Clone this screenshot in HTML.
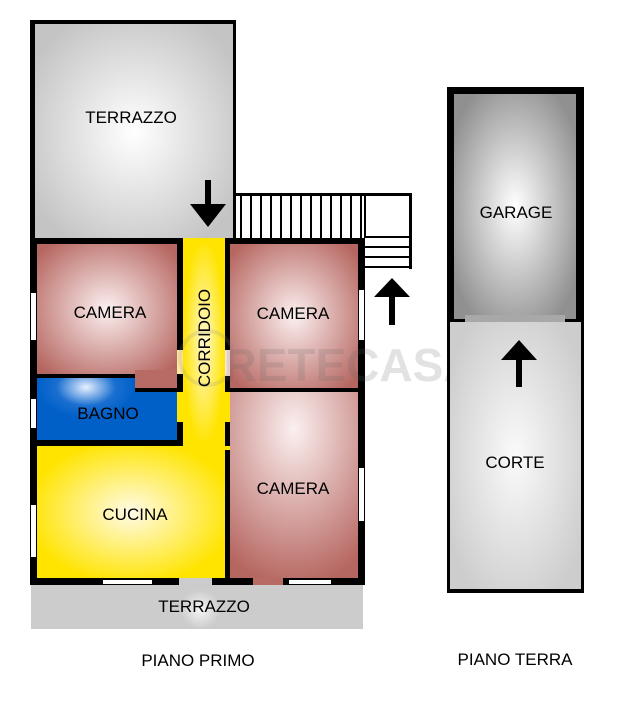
<!DOCTYPE html>
<html><head><meta charset="utf-8"><style>
html,body{margin:0;padding:0;background:#fff;width:640px;height:721px;overflow:hidden}
text{font-family:"Liberation Sans",sans-serif;font-size:17px;fill:#000}
</style></head><body>
<svg width="640" height="721" viewBox="0 0 640 721" xmlns="http://www.w3.org/2000/svg">
<defs>
<radialGradient id="gray" cx="50%" cy="50%" r="60%"><stop offset="0" stop-color="#fff"/><stop offset="1" stop-color="#c4c4c4"/></radialGradient>
<radialGradient id="red" cx="50%" cy="50%" r="65%"><stop offset="0" stop-color="#fbf0f0"/><stop offset="1" stop-color="#b66660"/></radialGradient>
<radialGradient id="red2" cx="50%" cy="20%" r="85%"><stop offset="0" stop-color="#fbf0f0"/><stop offset="1" stop-color="#b66660"/></radialGradient>
<radialGradient id="blue" cx="50%" cy="15%" r="50%"><stop offset="0" stop-color="#e8f0ff"/><stop offset="0.6" stop-color="#1a6fd0"/><stop offset="1" stop-color="#0060c8"/></radialGradient>
<radialGradient id="yel" cx="50%" cy="50%" r="55%"><stop offset="0" stop-color="#fffbe8"/><stop offset="1" stop-color="#ffe400"/></radialGradient>
<radialGradient id="yelc" cx="50%" cy="50%" r="50%"><stop offset="0" stop-color="#fff8d0"/><stop offset="1" stop-color="#ffe400"/></radialGradient>
<radialGradient id="gar" cx="50%" cy="50%" r="60%"><stop offset="0" stop-color="#fff"/><stop offset="1" stop-color="#909090"/></radialGradient>
<radialGradient id="cor" cx="50%" cy="50%" r="60%"><stop offset="0" stop-color="#fafafa"/><stop offset="1" stop-color="#cdcdcd"/></radialGradient>
<radialGradient id="ter" cx="50%" cy="50%" r="50%"><stop offset="0" stop-color="#f4f4f4"/><stop offset="1" stop-color="#cccccc"/></radialGradient>
</defs>

<rect x="30" y="20" width="206" height="222" fill="#000"/>
<rect x="35" y="24" width="198" height="218" fill="url(#gray)"/>
<text x="131" y="123" text-anchor="middle">TERRAZZO</text>
<rect x="236" y="193" width="176" height="3" fill="#000"/>
<rect x="409" y="193" width="3" height="76" fill="#000"/>
<g stroke="#000" stroke-width="2">
<line x1="241" y1="195" x2="241" y2="238"/><line x1="251" y1="195" x2="251" y2="238"/><line x1="261" y1="195" x2="261" y2="238"/><line x1="271" y1="195" x2="271" y2="238"/><line x1="281" y1="195" x2="281" y2="238"/><line x1="291" y1="195" x2="291" y2="238"/><line x1="301" y1="195" x2="301" y2="238"/><line x1="311" y1="195" x2="311" y2="238"/><line x1="321" y1="195" x2="321" y2="238"/><line x1="331" y1="195" x2="331" y2="238"/><line x1="341" y1="195" x2="341" y2="238"/><line x1="351" y1="195" x2="351" y2="238"/><line x1="361" y1="195" x2="361" y2="238"/>
<line x1="365" y1="196" x2="365" y2="238"/>
<line x1="365" y1="237" x2="410" y2="237"/><line x1="365" y1="247" x2="410" y2="247"/><line x1="365" y1="257" x2="410" y2="257"/><line x1="365" y1="267" x2="412" y2="267"/>
</g>

<rect x="30" y="238" width="335" height="347" fill="#000"/>
<rect x="37" y="244" width="140" height="130" fill="url(#red)"/>
<rect x="135" y="370" width="42" height="18" fill="#b86a64"/>
<rect x="183" y="238" width="42" height="208" fill="url(#yelc)"/>
<rect x="193" y="238" width="27" height="6" fill="#ffe400"/>
<rect x="230" y="244" width="128" height="144" fill="url(#red)"/>
<rect x="37" y="378" width="98" height="62" fill="url(#blue)"/>
<rect x="135" y="392" width="42" height="48" fill="#0060c8"/>
<rect x="230" y="392" width="128" height="186" fill="url(#red2)"/>
<rect x="37" y="446" width="188" height="132" fill="url(#yel)"/>
<rect x="177" y="350" width="6" height="24" fill="#ffe8a0"/>
<rect x="225" y="350" width="5" height="26" fill="#fbe8e0"/>
<rect x="177" y="392" width="6" height="30" fill="#ffe400"/>
<rect x="225" y="392" width="5" height="30" fill="#ffe400"/>
<rect x="191" y="440" width="28" height="6" fill="#ffe400"/>
<rect x="225" y="446" width="5" height="4" fill="#ffe400"/>
<rect x="179" y="578" width="33" height="7" fill="#ccc"/>
<rect x="253" y="578" width="30" height="7" fill="#b86a64"/>
<rect x="103" y="580" width="49" height="4" fill="#fff"/>
<rect x="289" y="580" width="42" height="4" fill="#fff"/>
<rect x="31" y="293" width="5" height="47" fill="#fff"/>
<rect x="31" y="399" width="5" height="29" fill="#fff"/>
<rect x="31" y="505" width="5" height="52" fill="#fff"/>
<rect x="359" y="290" width="5" height="50" fill="#fff"/>
<rect x="359" y="468" width="5" height="53" fill="#fff"/>

<rect x="31" y="585" width="332" height="44" fill="#ccc"/>
<rect x="180" y="590" width="40" height="39" fill="url(#ter)"/>
<text x="204" y="612" text-anchor="middle">TERRAZZO</text>

<g opacity="0.18">
<circle cx="207" cy="358" r="27" fill="none" stroke="#888" stroke-width="4"/>
<text x="350" y="381" text-anchor="middle" style="font-size:46px;font-weight:bold;fill:#666">RETECASA</text>
</g>

<text x="110" y="318" text-anchor="middle">CAMERA</text>
<text x="293" y="319" text-anchor="middle">CAMERA</text>
<text x="108" y="419" text-anchor="middle">BAGNO</text>
<text x="293" y="494" text-anchor="middle">CAMERA</text>
<text x="135" y="520" text-anchor="middle">CUCINA</text>
<text transform="translate(210,338) rotate(-90)" text-anchor="middle">CORRIDOIO</text>

<rect x="205" y="180" width="6" height="24" fill="#000"/>
<polygon points="190,204 226,204 208,227" fill="#000"/>
<rect x="389" y="295" width="6" height="30" fill="#000"/>
<polygon points="374,297 410,297 392,278" fill="#000"/>

<rect x="447" y="87" width="137" height="235" fill="#000"/>
<rect x="454" y="94" width="122" height="225" fill="url(#gar)"/>
<rect x="447" y="319" width="137" height="274" fill="#000"/>
<rect x="450" y="322" width="131" height="267" fill="url(#cor)"/>
<rect x="465" y="315" width="100" height="7" fill="#a8a8a8"/>
<text x="516" y="218" text-anchor="middle">GARAGE</text>
<text x="515" y="468" text-anchor="middle">CORTE</text>
<rect x="516" y="358" width="6" height="29" fill="#000"/>
<polygon points="501,360 537,360 519,340" fill="#000"/>

<text x="198" y="666" text-anchor="middle">PIANO PRIMO</text>
<text x="515" y="665" text-anchor="middle">PIANO TERRA</text>
</svg>
</body></html>
